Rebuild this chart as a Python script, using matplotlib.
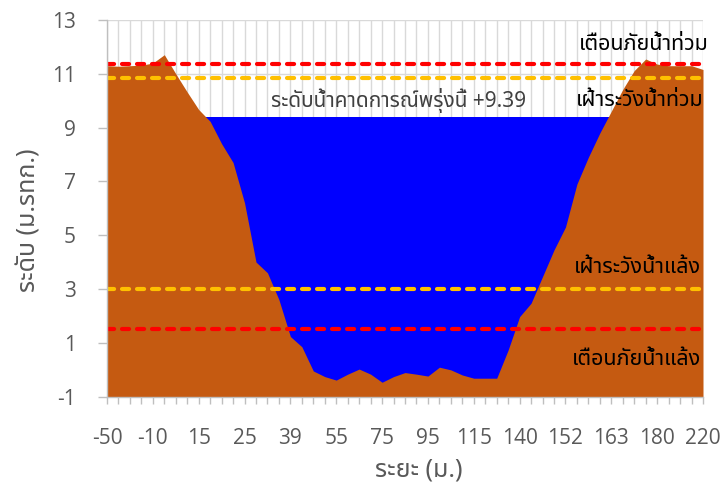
import matplotlib
matplotlib.use("Agg")
import matplotlib.pyplot as plt
from matplotlib import font_manager
from matplotlib.ticker import FixedLocator, FixedFormatter
import numpy as np

# Ground elevation (m MSL) at each station across the river section
ground = [11.30, 11.28, 11.30, 11.32, 11.40, 11.71, 11.00, 10.32, 9.67, 9.23,
          8.40, 7.70, 6.20, 4.00, 3.60, 2.60, 1.23, 0.85, -0.05, -0.26,
          -0.39, -0.17, 0.02, -0.17, -0.47, -0.26, -0.11, -0.17, -0.24, 0.09,
          -0.01, -0.20, -0.32, -0.32, -0.32, 0.73, 1.97, 2.47, 3.46, 4.45,
          5.30, 6.90, 7.90, 8.80, 9.61, 10.42, 11.12, 11.55, 11.36, 11.30,
          11.30, 11.30, 11.16]

# Distance labels shown under every fourth station
distance_labels = [-50, -10, 15, 25, 39, 55, 75, 95, 115, 140, 152, 163, 180, 220]
label_every = 4

# Water levels (m MSL)
forecast_level = 9.39
flood_warning = 11.35
flood_watch = 10.85
drought_watch = 3.00
drought_warning = 1.50

y_ticks = [-1, 1, 3, 5, 7, 9, 11, 13]

BROWN = "#C55A11"
BLUE = "#0000FF"
RED = "#FF0000"
AMBER = "#FFC000"
GRID = "#D9D9D9"
AXIS = "#BFBFBF"
TICKTXT = "#595959"


def find_thai_family():
    preferred = ["Leelawadee UI", "Leelawadee", "Tahoma", "Noto Sans Thai",
                 "Noto Sans Thai UI", "Loma", "Garuda", "Waree", "Sarabun",
                 "Norasi", "Kinnari", "Umpush", "Sawasdee", "Laksaman"]
    found = []
    try:
        from fontTools.ttLib import TTFont
    except Exception:
        return None
    for f in font_manager.fontManager.ttflist:
        try:
            tt = TTFont(f.fname, fontNumber=0, lazy=True)
            cmap = tt.getBestCmap()
            if cmap and 0x0E01 in cmap and 0x0E49 in cmap:
                found.append(f.name)
        except Exception:
            continue
    for name in preferred:
        if name in found:
            return name
    return found[0] if found else None


thai = find_thai_family()
latin = "Open Sans"
families = [latin, thai, "DejaVu Sans"] if thai else [latin, "DejaVu Sans"]
thai_first = [thai, latin, "DejaVu Sans"] if thai else families
plt.rcParams["font.family"] = families

fig = plt.figure(figsize=(7.22, 4.86), dpi=100)
W, H = 722, 486
left, right, top, bottom = 107, 703, 20, 396.5
ax = fig.add_axes([left / W, 1 - bottom / H, (right - left) / W, (bottom - top) / H])

n = len(ground)
x = np.arange(n)

ax.set_xlim(0, n - 1)
ax.set_ylim(y_ticks[0], y_ticks[-1])

# Grid: horizontal at each y tick, vertical at each station
for yv in y_ticks:
    ax.axhline(yv, color=GRID, lw=1.0, zorder=0.5)
for xv in x:
    ax.axvline(xv, color=GRID, lw=1.0, zorder=0.5)

# Forecast water surface, then ground on top
ax.fill_between(x, y_ticks[0], np.full(n, forecast_level), color=BLUE, lw=0, zorder=2)
ax.fill_between(x, y_ticks[0], ground, color=BROWN, lw=0, zorder=3)

# Threshold lines
for level, col in [(flood_warning, RED), (flood_watch, AMBER),
                   (drought_watch, AMBER), (drought_warning, RED)]:
    ax.plot(x, np.full(n, level), color=col, lw=3.0, dashes=(1.7, 1.9),
            dash_capstyle="round", zorder=4)

# Axes styling
for s in ["top", "right"]:
    ax.spines[s].set_visible(False)
for s in ["left", "bottom"]:
    ax.spines[s].set_color(AXIS)
    ax.spines[s].set_linewidth(1.0)
    ax.spines[s].set_zorder(5)

ax.xaxis.set_major_locator(FixedLocator(x))
xt = [""] * n
for k, lab in enumerate(distance_labels):
    xt[k * label_every] = str(lab)
ax.xaxis.set_major_formatter(FixedFormatter(xt))
ax.set_yticks(y_ticks)
ax.set_yticklabels([str(v) for v in y_ticks])

ax.tick_params(axis="x", direction="out", length=5, width=1.0, color=AXIS,
               labelsize=15, labelcolor=TICKTXT, pad=18)
ax.tick_params(axis="y", direction="out", length=6.5, width=1.0, color=AXIS,
               labelsize=15, labelcolor=TICKTXT, pad=16)

# Axis titles
fig.text(29 / W, 1 - 220 / H, "ระดับ (ม.รทก.)", rotation=90, ha="center",
         va="center", fontsize=18, color=TICKTXT, family=thai_first)
fig.text(419 / W, 1 - 470 / H, "ระยะ (ม.)", ha="center", va="center",
         fontsize=18, color=TICKTXT, family=thai_first)

# Level annotations
lab_kw = dict(ha="center", va="baseline", fontsize=15.5, color="#000000",
              family=thai_first, zorder=6)
ax.text(46.8, 11.90, "เตือนภัยน้ำท่วม", **lab_kw)
ax.text(46.5, 9.80, "เฝ้าระวังน้ำท่วม", **lab_kw)
ax.text(46.3, 3.61, "เฝ้าระวังน้ำแล้ง", **lab_kw)
ax.text(46.2, 0.17, "เตือนภัยน้ำแล้ง", **lab_kw)
ax.text(25.4, 9.75, f"ระดับน้ำคาดการณ์พรุ่งนี้ +{forecast_level:.2f}",
        ha="center", va="baseline", fontsize=15, color="#404040",
        family=thai_first, zorder=6)

fig.savefig("out.png", dpi=100)
